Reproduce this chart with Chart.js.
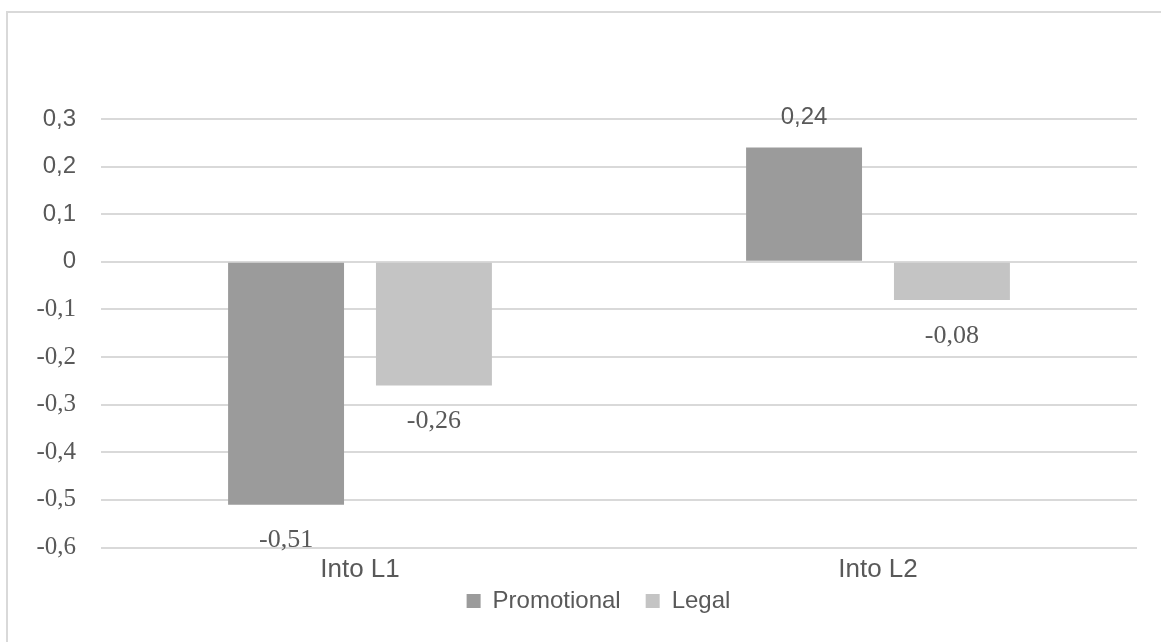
<!DOCTYPE html>
<html><head><meta charset="utf-8">
<script src="https://cdn.jsdelivr.net/npm/chart.js@4.4.1/dist/chart.umd.min.js"></script>
<style>html,body{margin:0;padding:0;background:#fff;overflow:hidden;}</style>
</head><body>
<canvas id="c" width="1161" height="642"></canvas>
<script>
const categories = ['Into L1', 'Into L2'];
const seriesNames = ['Promotional', 'Legal'];
const promotional = [-0.51, 0.24];
const legal = [-0.26, -0.08];
const yTickValues = [-0.6, -0.5, -0.4, -0.3, -0.2, -0.1, 0, 0.1, 0.2, 0.3];
const yTickLabels = ['-0,6', '-0,5', '-0,4', '-0,3', '-0,2', '-0,1', '0', '0,1', '0,2', '0,3'];

const SANS = "'Liberation Sans', Arial, sans-serif";
const SERIF = "'Liberation Serif', 'Times New Roman', serif";
const TEXT = '#595959';

const borderPlugin = {
  id: 'outerBorder',
  beforeDraw(chart) {
    const ctx = chart.ctx;
    ctx.save();
    ctx.fillStyle = '#ffffff';
    ctx.fillRect(0, 0, chart.width, chart.height);
    ctx.strokeStyle = '#d9d9d9';
    ctx.lineWidth = 2;
    ctx.strokeRect(7, 12, chart.width + 20, chart.height + 20);
    ctx.restore();
  }
};

const legendShift = {
  id: 'legendShift',
  afterLayout(chart) {
    const lg = chart.legend;
    if (!lg) return;
    lg.top -= 19; lg.bottom -= 19;
    lg.left += 12; lg.right += 12;
  }
};

const labelPlugin = {
  id: 'valueLabels',
  afterDatasetsDraw(chart) {
    const ctx = chart.ctx;
    ctx.save();
    ctx.fillStyle = TEXT;
    ctx.textAlign = 'center';
    ctx.textBaseline = 'middle';
    chart.data.datasets.forEach((ds, di) => {
      const meta = chart.getDatasetMeta(di);
      meta.data.forEach((el, i) => {
        const v = ds.data[i];
        const txt = v.toFixed(2).replace('.', ',');
        if (v < 0) {
          ctx.font = '26px ' + SERIF;
          ctx.fillText(txt, el.x, el.y + 36);
        } else {
          ctx.font = '24px ' + SANS;
          ctx.fillText(txt, el.x, el.y - 30);
        }
      });
    });
    ctx.restore();
  }
};

function tickFont(c) {
  let v;
  if (c && c.tick) v = c.tick.value;
  else if (c && typeof c.index === 'number') v = yTickValues[c.index];
  return (v !== undefined && v < 0) ? { family: SERIF, size: 25 } : { family: SANS, size: 24 };
}

new Chart(document.getElementById('c').getContext('2d'), {
  type: 'bar',
  data: {
    labels: categories,
    datasets: [
      { label: seriesNames[0], data: promotional, backgroundColor: '#9b9b9b', borderWidth: 0 },
      { label: seriesNames[1], data: legal, backgroundColor: '#c4c4c4', borderWidth: 0 }
    ]
  },
  options: {
    responsive: false,
    animation: false,
    datasets: { bar: { categoryPercentage: 0.571, barPercentage: 0.784 } },
    layout: { padding: { top: 119, left: 36, right: 24, bottom: 0 } },
    scales: {
      x: {
        grid: { display: false, drawTicks: false },
        border: { display: false },
        ticks: { color: TEXT, font: { family: SANS, size: 26, lineHeight: 1 }, padding: 9.5 },
        afterFit(s) { s.height = 35.5; }
      },
      y: {
        min: -0.6, max: 0.3,
        afterBuildTicks(s) { s.ticks = yTickValues.map(v => ({ value: v })); },
        afterFit(s) { s.width = 65; },
        grid: { color: '#d9d9d9', lineWidth: 2, drawTicks: false },
        border: { display: false },
        ticks: {
          color: TEXT,
          padding: 25,
          callback: (v) => yTickLabels[yTickValues.indexOf(v)],
          font: tickFont
        }
      }
    },
    plugins: {
      legend: {
        position: 'bottom',
        maxHeight: 59.5,
        labels: { color: TEXT, font: { family: SANS, size: 24 }, boxWidth: 14, boxHeight: 14, padding: 25 }
      },
      tooltip: { enabled: false }
    }
  },
  plugins: [borderPlugin, legendShift, labelPlugin]
});
</script>
</body></html>
